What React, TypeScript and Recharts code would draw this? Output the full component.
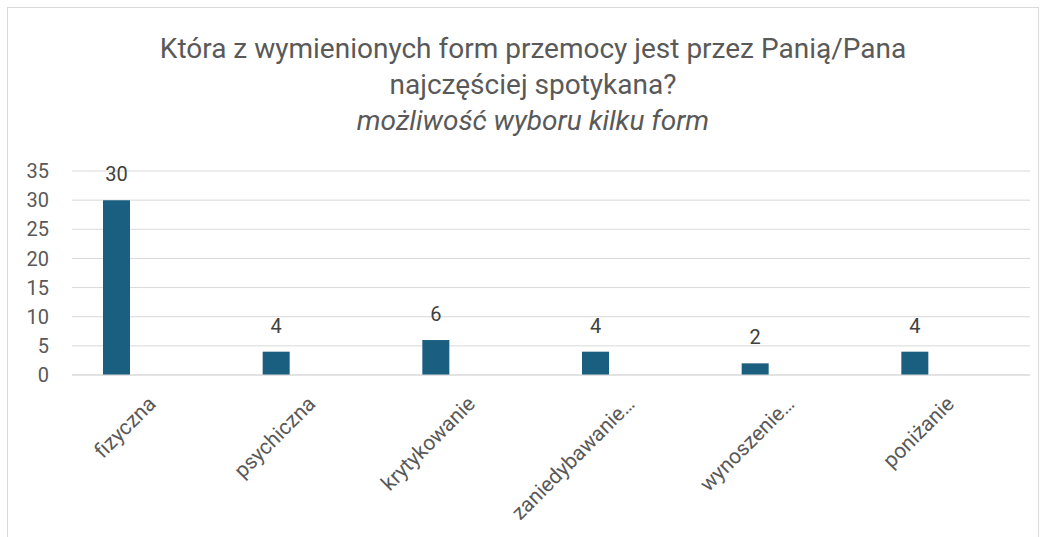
import React from 'react'
import { BarChart, Bar, XAxis, YAxis, CartesianGrid, LabelList } from 'recharts'

const categories = ['fizyczna', 'psychiczna', 'krytykowanie', 'zaniedybawanie…', 'wynoszenie…', 'poniżanie']
const answers = [30, 4, 6, 4, 2, 4]
// Excel sheet had an extra, empty series next to the answers, which pushes the bars left
const emptySeries = [null, null, null, null, null, null]
const yTicks = [0, 5, 10, 15, 20, 25, 30, 35]

const data = categories.map((name, i) => ({ name, answers: answers[i], empty: emptySeries[i] }))

const FONT = 'Roboto, "Noto Sans", sans-serif'
const TEXT = '#595959'

const AngledTick = (props: any) => {
  const { x, y, payload } = props
  return (
    <g transform={`translate(${x},${y + 17})`}>
      <text
        x={0}
        y={0}
        dy="0.35em"
        textAnchor="end"
        transform="rotate(-45)"
        fill={TEXT}
        fontSize={21}
        fontFamily={FONT}
      >
        {payload.value}
      </text>
    </g>
  )
}

const App = () => {
  return (
    <div style={{ position: 'absolute', left: 0, top: 0, width: 1047, height: 537, background: '#fff', overflow: 'hidden' }}>
      <div
        style={{
          position: 'absolute',
          left: 7,
          top: 7,
          width: 1032,
          height: 540,
          border: '1px solid #d9d9d9',
          boxSizing: 'border-box',
        }}
      />
      <div
        style={{
          position: 'absolute',
          left: 0,
          top: 31,
          width: 1066,
          textAlign: 'center',
          fontFamily: FONT,
          fontSize: 28,
          lineHeight: '36px',
          color: TEXT,
        }}
      >
        <div>Która z wymienionych form przemocy jest przez Panią/Pana</div>
        <div>najczęściej spotykana?</div>
        <div style={{ fontStyle: 'italic' }}>możliwość wyboru kilku form</div>
      </div>
      <div style={{ position: 'absolute', left: 0, top: 0 }}>
        <BarChart
          width={1047}
          height={537}
          data={data}
          margin={{ top: 171, right: 17, left: 0, bottom: 0 }}
          barSize={27}
          barGap={44}
        >
          <CartesianGrid vertical={false} stroke="#d9d9d9" strokeWidth={1} />
          <XAxis
            dataKey="name"
            tick={<AngledTick />}
            tickLine={false}
            axisLine={{ stroke: '#d9d9d9' }}
            interval={0}
            height={162}
          />
          <YAxis
            width={72}
            domain={[0, 35]}
            ticks={yTicks}
            axisLine={false}
            tickLine={false}
            tickSize={0}
            tickMargin={23}
            tick={{ fill: TEXT, fontSize: 20, fontFamily: FONT }}
          />
          <Bar dataKey="answers" fill="#1a5e80" isAnimationActive={false}>
            <LabelList dataKey="answers" position="top" offset={19} fill="#404040" fontSize={20} fontFamily={FONT} />
          </Bar>
          <Bar dataKey="empty" fill="#1a5e80" isAnimationActive={false} />
        </BarChart>
      </div>
    </div>
  )
}

export default App
